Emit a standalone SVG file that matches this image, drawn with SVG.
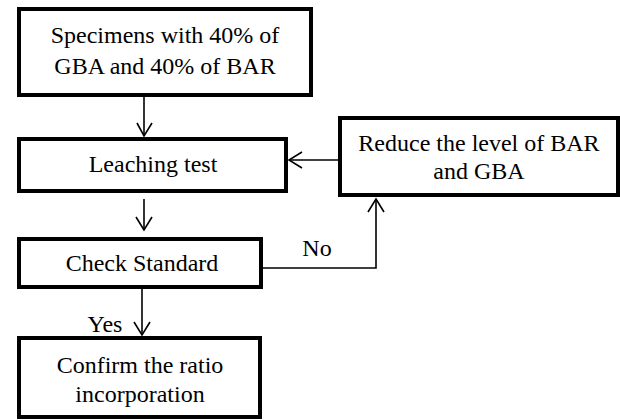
<svg xmlns="http://www.w3.org/2000/svg" width="620" height="420" viewBox="0 0 620 420">
<style>
.box{fill:#fff;stroke:#000;stroke-width:4}
.t{font-family:"Liberation Serif","Times New Roman",serif;font-size:24px;fill:#000;text-anchor:middle}
.c{fill:none;stroke:#000;stroke-width:1.6}
</style>
<rect width="620" height="420" fill="#fff"/>
<g id="connectors">
<line class="c" x1="144" y1="97" x2="144" y2="136"/>
<polyline class="c" points="137,123 144,136 152,123"/>
<line class="c" x1="144" y1="199" x2="144" y2="230"/>
<polyline class="c" points="136,217 144,230 152,217"/>
<line class="c" x1="142" y1="289" x2="142" y2="335"/>
<polyline class="c" points="134,322 142,335 150,322"/>
<polyline class="c" points="263,268 376,268 376,199"/>
<polyline class="c" points="368,212 376,199 384,212"/>
<line class="c" x1="338" y1="160" x2="289" y2="160"/>
<polyline class="c" points="302,152 289,160 302,168"/>
<text class="t" x="317" y="256">No</text>
<text class="t" x="105" y="332">Yes</text>
</g>
<g id="specimens">
<rect class="box" x="19" y="9" width="292" height="86"/>
<text class="t" x="165" y="43">Specimens with 40% of</text>
<text class="t" x="165" y="74">GBA and 40% of BAR</text>
</g>
<g id="leaching">
<rect class="box" x="19" y="139" width="267" height="52"/>
<text class="t" x="153" y="172">Leaching test</text>
</g>
<g id="check">
<rect class="box" x="19" y="239" width="242" height="48"/>
<text class="t" x="142" y="271">Check Standard</text>
</g>
<g id="reduce">
<rect class="box" x="340" y="118" width="278" height="77"/>
<text class="t" x="479" y="151">Reduce the level of BAR</text>
<text class="t" x="479" y="179">and GBA</text>
</g>
<g id="confirm">
<rect class="box" x="19" y="338" width="241" height="79"/>
<text class="t" x="140" y="373">Confirm the ratio</text>
<text class="t" x="140" y="402">incorporation</text>
</g>
</svg>
